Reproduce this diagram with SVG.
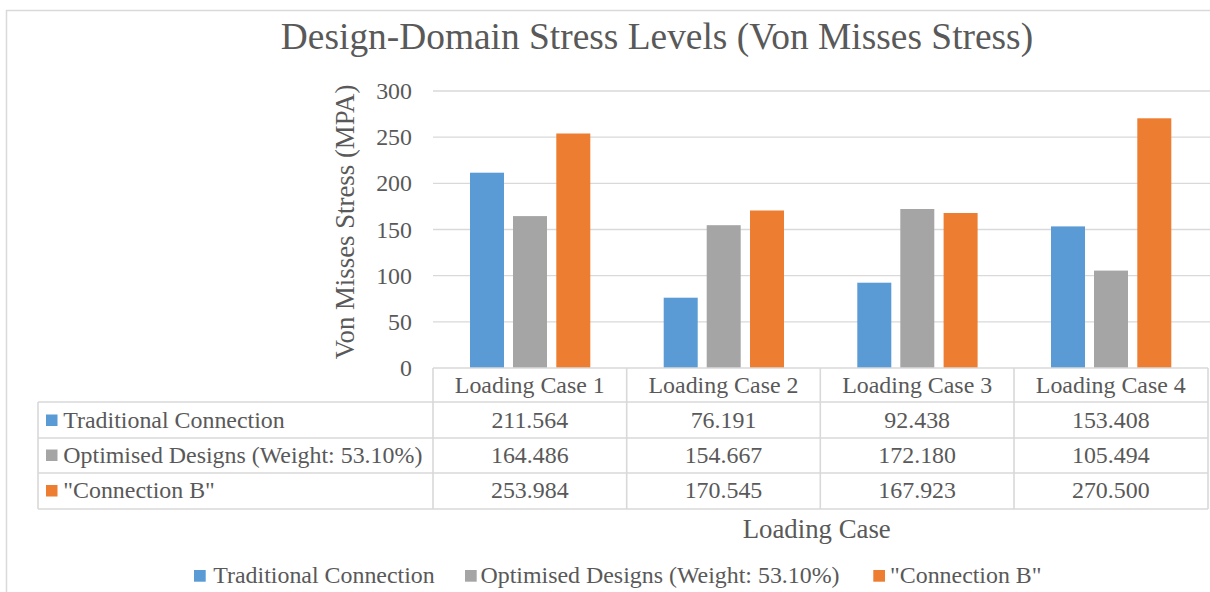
<svg xmlns="http://www.w3.org/2000/svg" width="1210" height="592" viewBox="0 0 1210 592">
<style>
text{font-family:"Liberation Serif","Times New Roman",serif;fill:#595959}
.t{font-size:23.9px}
.c{text-anchor:middle}
.r{text-anchor:end}
.grid{stroke:#D9D9D9;stroke-width:1.3;fill:none}
.tb{stroke:#D9D9D9;stroke-width:1.6;fill:none}
.s1{fill:#5B9BD5}.s2{fill:#A5A5A5}.s3{fill:#ED7D31}
</style>
<rect width="1210" height="592" fill="#fff"/>
<rect x="6.5" y="10.5" width="1220" height="600" fill="none" stroke="#D9D9D9" stroke-width="1.5"/>
<text id="title" x="657" y="49" class="c" font-size="37.4">Design-Domain Stress Levels (Von Misses Stress)</text>
<g id="gridlines" class="grid">
<path d="M433 91H1210M433 137.2H1210M433 183.3H1210M433 229.5H1210M433 275.7H1210M433 321.8H1210"/>
</g>
<g id="yaxis" class="t r">
<text x="412" y="99">300</text>
<text x="412" y="145.2">250</text>
<text x="412" y="191.3">200</text>
<text x="412" y="237.5">150</text>
<text x="412" y="283.7">100</text>
<text x="412" y="329.8">50</text>
<text x="412" y="376">0</text>
</g>
<text id="ytitle" transform="translate(354,222) rotate(-90)" class="c" font-size="26.8">Von Misses Stress (MPA)</text>
<g id="bars">
<rect class="s1" x="470" y="172.7" width="34" height="195.3"/>
<rect class="s2" x="513" y="216.1" width="34" height="151.9"/>
<rect class="s3" x="556.3" y="133.5" width="34" height="234.5"/>
<rect class="s1" x="663.7" y="297.7" width="34" height="70.3"/>
<rect class="s2" x="706.7" y="225.2" width="34" height="142.8"/>
<rect class="s3" x="750" y="210.5" width="34" height="157.5"/>
<rect class="s1" x="857.3" y="282.7" width="34" height="85.3"/>
<rect class="s2" x="900.3" y="209" width="34" height="159"/>
<rect class="s3" x="943.6" y="213" width="34" height="155"/>
<rect class="s1" x="1051" y="226.4" width="34" height="141.6"/>
<rect class="s2" x="1094" y="270.6" width="34" height="97.4"/>
<rect class="s3" x="1137.3" y="118.3" width="34" height="249.7"/>
</g>
<g id="table">
<path class="tb" d="M433 368H1208M38 402H1208M38 438H1208M38 473H1208M38 509H1208M38 402V509M433 368V509M626.7 368V509M820.3 368V509M1014 368V509M1208 368V509"/>
<g class="t c">
<text x="529.8" y="393.3">Loading Case 1</text>
<text x="723.5" y="393.3">Loading Case 2</text>
<text x="917.2" y="393.3">Loading Case 3</text>
<text x="1110.8" y="393.3">Loading Case 4</text>
<text x="529.8" y="428.3">211.564</text>
<text x="723.5" y="428.3">76.191</text>
<text x="917.2" y="428.3">92.438</text>
<text x="1110.8" y="428.3">153.408</text>
<text x="529.8" y="463.3">164.486</text>
<text x="723.5" y="463.3">154.667</text>
<text x="917.2" y="463.3">172.180</text>
<text x="1110.8" y="463.3">105.494</text>
<text x="529.8" y="498.3">253.984</text>
<text x="723.5" y="498.3">170.545</text>
<text x="917.2" y="498.3">167.923</text>
<text x="1110.8" y="498.3">270.500</text>
</g>
<rect class="s1" x="46" y="414.5" width="11.5" height="11.5"/>
<rect class="s2" x="46" y="449.5" width="11.5" height="11.5"/>
<rect class="s3" x="46" y="485" width="11.5" height="11.5"/>
<g class="t">
<text x="63.3" y="428.3">Traditional Connection</text>
<text x="63.3" y="463.3">Optimised Designs (Weight: 53.10%)</text>
<text x="63.3" y="498.3">"Connection B"</text>
</g>
</g>
<text id="xtitle" x="816.7" y="538.3" class="c" font-size="26.8">Loading Case</text>
<g id="legend">
<rect class="s1" x="194" y="570" width="11.7" height="11.7"/>
<text class="t" x="213.3" y="583.3">Traditional Connection</text>
<rect class="s2" x="465" y="570" width="11.7" height="11.7"/>
<text class="t" x="480.5" y="583.3">Optimised Designs (Weight: 53.10%)</text>
<rect class="s3" x="873.3" y="570" width="11.7" height="11.7"/>
<text class="t" x="890" y="583.3">"Connection B"</text>
</g>
</svg>
